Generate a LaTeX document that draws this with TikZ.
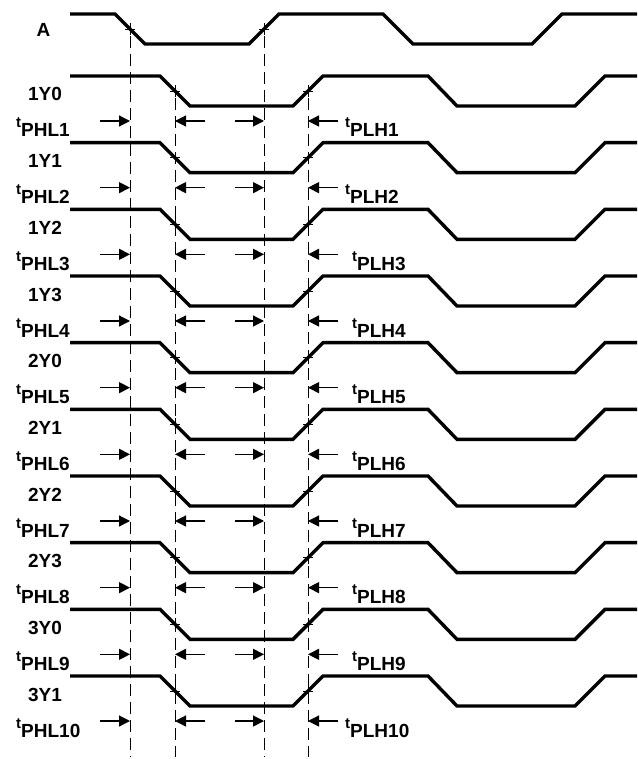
\documentclass[tikz,border=0pt]{standalone}
\usepackage{fontspec}
\setmainfont{Liberation Sans}
\usetikzlibrary{arrows.meta}
\tikzstyle{signal}=[line width=3.4pt, line join=miter]
\tikzstyle{guide}=[line width=0.9pt, dash pattern=on 12pt off 6pt]
\tikzstyle{tick}=[line width=0.9pt]
\tikzstyle{delay}=[line width=1.2pt, -{Triangle[length=11pt, width=11pt]}]
\tikzstyle{signal name}=[inner sep=0pt, anchor=base, font=\fontsize{19}{19}\selectfont\bfseries]
\tikzstyle{delay name}=[inner sep=0pt, anchor=base west, font=\fontsize{19}{19}\selectfont\bfseries]
\newcommand{\tdelay}[1]{{\fontsize{15}{15}\selectfont t}\raisebox{-9pt}{#1}}
\newcommand{\crossmark}[1]{\draw[tick] ([xshift=-5pt]#1) -- ([xshift=5pt]#1) ([yshift=-6pt]#1) -- ([yshift=6pt]#1);}

\begin{document}
\begin{tikzpicture}[x=1pt, y=-1pt]
  \useasboundingbox (0,0) rectangle (637,759);
  \node[signal name] (name_A) at (43.5,37) {A};
  \draw[signal] (70,14) -- (115,14) -- (145,44) -- (249,44) -- (279,14)
    -- (383,14) -- (413,44) -- (532,44) -- (562,14) -- (637,14);
  \coordinate (a_fall) at (130,29);
  \coordinate (a_rise) at (264,29);
  \coordinate (y_fall) at (175,91);
  \coordinate (y_rise) at (308,91);
  \coordinate (a_fall_end) at (130,757);
  \coordinate (a_rise_end) at (264,757);
  \coordinate (y_fall_end) at (175,757);
  \coordinate (y_rise_end) at (308,757);
  \crossmark{a_fall}
  \crossmark{a_rise}
  \draw[guide] ([yshift=-7pt]a_fall) -- (a_fall_end);
  \draw[guide] ([yshift=-7pt]a_rise) -- (a_rise_end);
  \draw[guide] ([yshift=-7pt]y_fall) -- (y_fall_end);
  \draw[guide] ([yshift=-7pt]y_rise) -- (y_rise_end);
  \foreach \name [count=\n] in {1Y0,1Y1,1Y2,1Y3,2Y0,2Y1,2Y2,2Y3,3Y0,3Y1} {
    \pgfmathsetmacro{\y}{76+(\n-1)*200/3}
    \pgfmathsetmacro{\plhx}{(\n<3 || \n>9) ? 345 : 352}
    \draw[signal] (70,\y) -- (160,\y) -- (190,\y+30) -- (293,\y+30) -- (323,\y)
      -- (428,\y) -- (457,\y+30) -- (575,\y+30) -- (605,\y) -- (637,\y);
    \node[signal name] (name_\n) at (45,\y+25) {\name};
    \crossmark{175,\y+15}
    \crossmark{308,\y+15}
    \coordinate (phl_tail_\n) at (100,\y+45);
    \coordinate (phl_head_\n) at (130,\y+45);
    \coordinate (fall_tail_\n) at (205,\y+45);
    \coordinate (fall_head_\n) at (175,\y+45);
    \coordinate (rise_tail_\n) at (235,\y+45);
    \coordinate (rise_head_\n) at (264,\y+45);
    \coordinate (plh_tail_\n) at (338,\y+45);
    \coordinate (plh_head_\n) at (308,\y+45);
    \draw[delay] (phl_tail_\n) -- (phl_head_\n);
    \draw[delay] (fall_tail_\n) -- (fall_head_\n);
    \draw[delay] (rise_tail_\n) -- (rise_head_\n);
    \draw[delay] (plh_tail_\n) -- (plh_head_\n);
    \node[delay name] (phl_\n) at (16,\y+52) {\tdelay{PHL\n}};
    \node[delay name] (plh_\n) at (\plhx,\y+52) {\tdelay{PLH\n}};
  }
\end{tikzpicture}
\end{document}
